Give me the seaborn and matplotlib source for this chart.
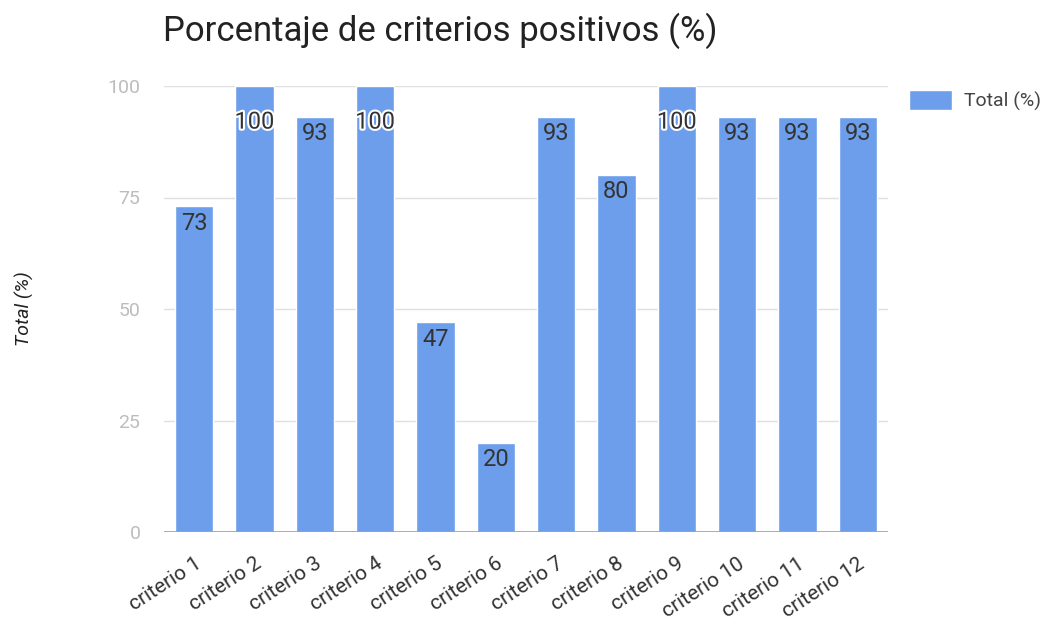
import matplotlib.pyplot as plt
import matplotlib.patheffects as pe
import seaborn as sns

# ── Data ──────────────────────────────────────────────────────────────────────
categories = [f"criterio {i}" for i in range(1, 13)]
values = [73, 100, 93, 100, 47, 20, 93, 80, 100, 93, 93, 93]
y_ticks = [0, 25, 50, 75, 100]

BAR_COLOR = "#6d9eeb"
TEXT_DARK = "#222222"
TEXT_GREY = "#bdbdbd"

sns.set_theme(style="white")
plt.rcParams["font.family"] = ["Roboto", "DejaVu Sans"]

fig = plt.figure(figsize=(10.54, 6.21), dpi=100)
ax = fig.add_axes([164 / 1054, 1 - 532 / 621, 724 / 1054, 446 / 621])

sns.barplot(x=categories, y=values, color=BAR_COLOR, width=0.63,
            saturation=1, ax=ax, label="Total (%)", zorder=3)

ax.set_ylim(0, 100)
ax.set_xlim(-0.5, len(categories) - 0.5)
ax.set_yticks(y_ticks)
ax.yaxis.grid(True, color="#e0e0e0", linewidth=1, zorder=0)
ax.axhline(0, color="#9e9e9e", linewidth=1.2, zorder=4)
for s in ax.spines.values():
    s.set_visible(False)
ax.tick_params(axis="y", length=0, pad=17, labelsize=14, labelcolor=TEXT_GREY)
ax.tick_params(axis="x", length=0, pad=16, labelsize=15, labelcolor="#333333")

for lbl in ax.get_xticklabels():
    lbl.set_rotation(33)
    lbl.set_ha("right")
    lbl.set_rotation_mode("anchor")

# value labels inside bar tops
for i, v in enumerate(values):
    dy = -26 if v >= 100 else -12
    txt = ax.annotate(str(v), (i, v), xytext=(0, dy), textcoords="offset points",
                      ha="center", va="center", fontsize=17, color="#333333", zorder=5)
    if v >= 100:
        txt.set_path_effects([pe.withStroke(linewidth=3, foreground="white")])

ax.set_xlabel("")
ax.set_ylabel("Total (%)", fontsize=14, style="italic", color=TEXT_DARK, labelpad=53)

fig.text(163 / 1054, 1 - 31 / 621, "Porcentaje de criterios positivos (%)",
         fontsize=25, color=TEXT_DARK, ha="left", va="center")

ax.legend(loc="upper left", bbox_to_anchor=(1.005, 1.03), frameon=False,
          fontsize=14, labelcolor="#444444", handlelength=2.2, handleheight=1.2,
          handletextpad=0.6)

fig.savefig("out.png", dpi=100)
